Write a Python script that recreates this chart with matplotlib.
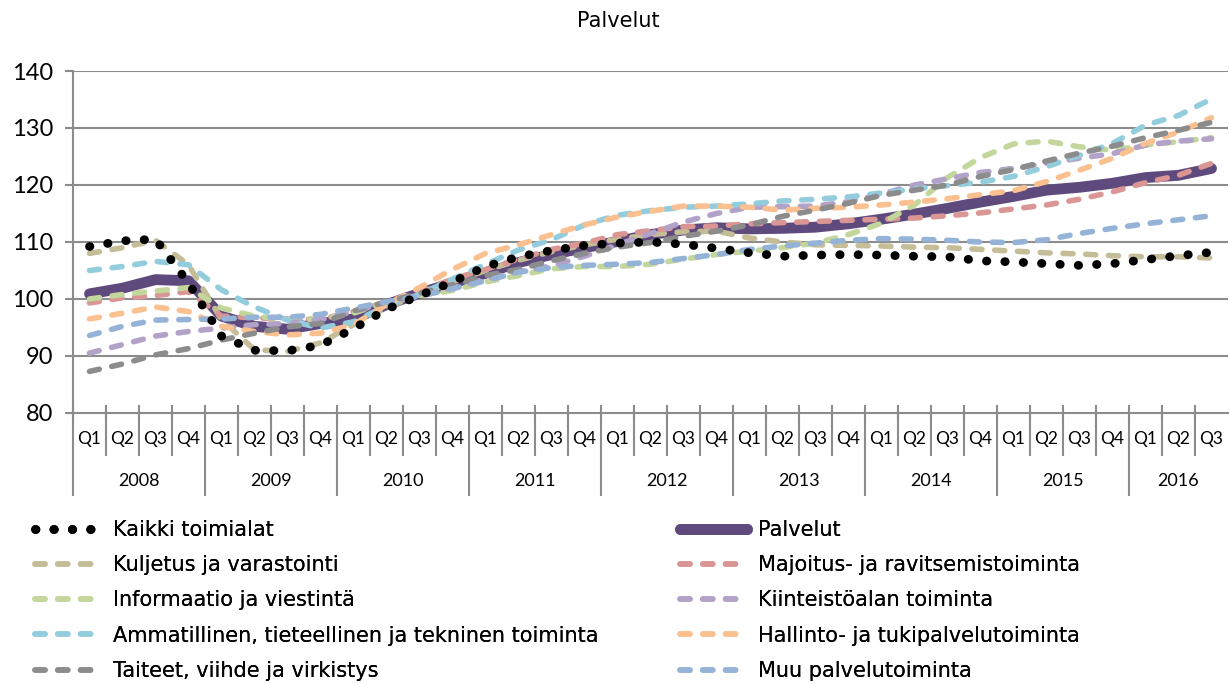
import numpy as np
import matplotlib
matplotlib.use("Agg")
import matplotlib.pyplot as plt
from matplotlib import font_manager

# fonts
names = {f.name for f in font_manager.fontManager.ttflist}
narrow = 'Liberation Sans Narrow' if 'Liberation Sans Narrow' in names else 'DejaVu Sans'
plain = 'Lato' if 'Lato' in names else 'DejaVu Sans'

years = ['2008', '2009', '2010', '2011', '2012', '2013', '2014', '2015', '2016']
quarters = ['Q1', 'Q2', 'Q3', 'Q4'] * 8 + ['Q1', 'Q2', 'Q3']

kaikki = [109.2, 110.2, 110.5, 102.8, 93.5, 91.0, 90.9, 91.9, 94.8, 98.2, 100.6, 103.0,
          105.7, 107.4, 108.5, 109.4, 109.8, 110.0, 109.6, 108.9, 108.1, 107.5, 107.7, 107.8,
          107.7, 107.5, 107.4, 106.7, 106.5, 106.2, 105.9, 106.2, 106.9, 107.6, 108.2]
palvelut = [100.9, 101.9, 103.4, 103.2, 97.0, 95.2, 94.7, 95.7, 96.5, 99.0, 101.0, 102.8,
            104.5, 106.4, 107.8, 109.0, 110.1, 111.3, 112.1, 112.5, 112.3, 112.4, 112.6, 113.2,
            114.0, 114.9, 115.9, 117.0, 118.0, 119.1, 119.6, 120.3, 121.3, 121.7, 122.9]
kuljetus = [108.0, 109.0, 110.3, 106.0, 96.4, 91.1, 90.8, 92.3, 95.5, 98.5, 100.8, 103.0,
            105.0, 106.8, 108.3, 109.5, 110.5, 111.3, 111.8, 111.9, 110.7, 110.0, 109.5, 109.4,
            109.3, 109.1, 109.0, 108.7, 108.4, 108.1, 107.9, 107.6, 107.4, 107.4, 107.2]
majoitus = [99.3, 100.2, 100.6, 101.3, 97.0, 96.7, 96.5, 96.4, 97.8, 99.5, 101.2, 103.5,
            105.2, 107.0, 108.7, 109.8, 111.3, 112.0, 112.7, 112.8, 113.2, 113.4, 113.6, 113.8,
            114.0, 114.2, 114.6, 115.1, 115.8, 116.5, 117.5, 118.8, 120.4, 121.7, 123.8]
informaatio = [100.0, 100.8, 101.4, 102.0, 98.4, 97.0, 96.4, 96.5, 97.5, 99.5, 100.6, 101.5,
               103.0, 104.1, 105.3, 105.7, 105.7, 106.1, 107.0, 107.8, 108.4, 109.0, 109.8, 111.3,
               113.3, 116.5, 121.3, 124.8, 127.2, 127.7, 126.7, 126.1, 127.0, 127.6, 128.3]
kiinteisto = [90.5, 92.0, 93.5, 94.3, 94.9, 95.5, 95.7, 96.4, 97.8, 99.3, 100.5, 102.0,
              103.5, 104.8, 105.8, 107.5, 109.5, 111.5, 113.5, 115.0, 116.1, 116.2, 116.3, 117.1,
              118.4, 120.0, 121.1, 122.2, 122.9, 123.8, 124.7, 125.5, 127.0, 127.7, 128.1]
ammatillinen = [105.0, 105.7, 106.6, 106.0, 101.6, 98.6, 96.3, 94.9, 96.0, 98.8, 100.8, 103.5,
                106.1, 108.6, 110.4, 113.0, 114.7, 115.5, 116.1, 116.3, 116.7, 117.2, 117.5, 117.9,
                118.6, 119.3, 119.9, 120.5, 121.5, 123.2, 125.2, 127.3, 130.5, 132.2, 135.1]
hallinto = [96.5, 97.5, 98.6, 97.8, 95.2, 94.3, 93.7, 94.0, 95.5, 99.0, 102.0, 105.2,
            108.0, 109.5, 111.3, 113.0, 114.4, 115.4, 116.3, 116.3, 116.1, 115.6, 115.9, 116.1,
            116.5, 117.0, 117.6, 118.3, 119.0, 120.6, 122.6, 124.7, 127.3, 129.3, 131.8]
taiteet = [87.3, 88.6, 90.2, 91.3, 92.8, 94.0, 95.1, 95.7, 97.9, 99.5, 101.0, 102.5,
           104.1, 105.2, 106.7, 108.0, 109.1, 109.9, 111.0, 111.9, 113.0, 114.5, 115.6, 116.8,
           118.2, 119.1, 120.0, 121.5, 122.7, 124.2, 125.6, 126.8, 128.3, 129.6, 131.0]
muu = [93.6, 95.2, 96.3, 96.4, 96.5, 96.8, 96.8, 97.3, 98.4, 99.5, 100.5, 101.8,
       103.2, 104.7, 105.5, 105.9, 106.1, 106.4, 107.1, 107.8, 108.7, 109.3, 109.8, 110.3,
       110.6, 110.5, 110.3, 110.0, 109.9, 110.4, 111.5, 112.4, 113.2, 113.9, 114.6]

dashed = [
    ('Kuljetus ja varastointi', kuljetus, '#C4BD97'),
    ('Majoitus- ja ravitsemistoiminta', majoitus, '#D99694'),
    ('Informaatio ja viestintä', informaatio, '#C3D69B'),
    ('Kiinteistöalan toiminta', kiinteisto, '#B3A2C7'),
    ('Ammatillinen, tieteellinen ja tekninen toiminta', ammatillinen, '#93CDDD'),
    ('Hallinto- ja tukipalvelutoiminta', hallinto, '#FAC090'),
    ('Taiteet, viihde ja virkistys', taiteet, '#8C8C8C'),
    ('Muu palvelutoiminta', muu, '#95B3D7'),
]

grid_col = '#8C8C8C'
x = np.arange(len(quarters)) + 0.5

fig = plt.figure(figsize=(12.29, 6.84), dpi=100)
ax = fig.add_axes([73 / 1229, 1 - 413 / 684, (1228 - 73) / 1229, 342 / 684])

handles = {}
h, = ax.plot(x, palvelut, color='#5F4A7D', lw=7.8, solid_capstyle='round', zorder=3)
handles['Palvelut'] = h
for name, vals, col in dashed:
    h, = ax.plot(x, vals, color=col, lw=4.0, ls=(0, (1.8, 2.3)),
                 dash_capstyle='round', zorder=4)
    handles[name] = h
h, = ax.plot(x, kaikki, color='black', lw=6.3, ls=(0, (0.05, 2.05)),
             dash_capstyle='round', zorder=5)
handles['Kaikki toimialat'] = h

ax.set_xlim(0, len(quarters))
ax.set_ylim(80, 140)
ax.set_yticks(range(80, 141, 10))
for v in range(90, 141, 10):
    ax.axhline(v, color=grid_col, lw=1.5, zorder=1)
for s in ['top', 'right']:
    ax.spines[s].set_visible(False)
for s in ['left', 'bottom']:
    ax.spines[s].set_color(grid_col)
    ax.spines[s].set_linewidth(1.5)
ax.tick_params(axis='y', colors=grid_col, length=6, width=1.5, labelcolor='black',
               labelsize=17, pad=8)
for lab in ax.get_yticklabels():
    lab.set_fontfamily(plain)
ax.set_xticks(range(0, len(quarters)))
ax.set_xticklabels([])
ax.tick_params(axis='x', colors=grid_col, direction='inout', length=12, width=1.5)

# category axis: quarters and years
trans = ax.get_xaxis_transform()
for i in range(len(quarters)):
    bottom = -0.24 if i % 4 == 0 else -0.123
    ax.plot([i, i], [0, bottom], color=grid_col, lw=1.5, transform=trans, clip_on=False)
    ax.text(i + 0.5, -0.077, quarters[i], transform=trans, ha='center', va='center',
            fontsize=12.5, fontfamily=plain)
for k, yr in enumerate(years):
    n = min(4, len(quarters) - 4 * k)
    ax.text(4 * k + n / 2, -0.198, yr, transform=trans, ha='center', va='center',
            fontsize=13, fontfamily=plain)

fig.text(618 / 1229, 1 - 21 / 684, 'Palvelut', ha='center', va='center',
         fontsize=15, fontfamily=narrow)

left_names = ['Kaikki toimialat', 'Kuljetus ja varastointi', 'Informaatio ja viestintä',
              'Ammatillinen, tieteellinen ja tekninen toiminta', 'Taiteet, viihde ja virkistys']
right_names = ['Palvelut', 'Majoitus- ja ravitsemistoiminta', 'Kiinteistöalan toiminta',
               'Hallinto- ja tukipalvelutoiminta', 'Muu palvelutoiminta']
for names_col, x0 in [(left_names, 35), (right_names, 680)]:
    leg = fig.legend([handles[n] for n in names_col], names_col, loc='upper left',
                     bbox_to_anchor=(x0 / 1229, 1 - 520 / 684), frameon=False,
                     borderpad=0, borderaxespad=0, handlelength=3.2, handletextpad=0.55,
                     labelspacing=0.73, prop={'family': narrow, 'size': 15})
    fig.add_artist(leg)

fig.savefig('out.png', dpi=100)
